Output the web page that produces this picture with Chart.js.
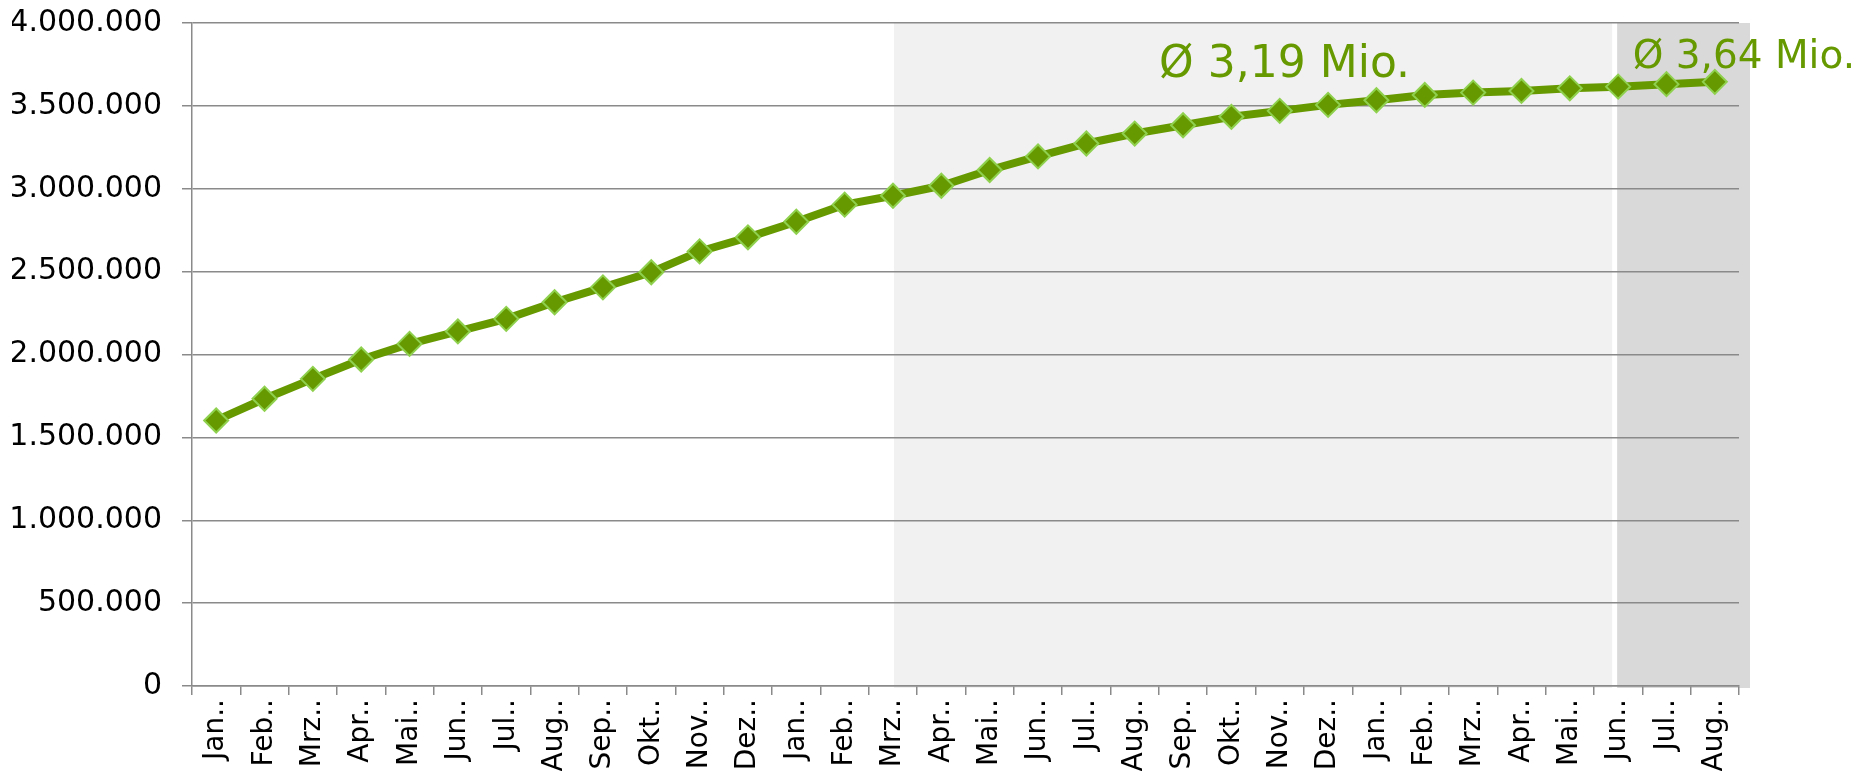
<!DOCTYPE html>
<html>
<head>
<meta charset="utf-8">
<script src="https://cdn.jsdelivr.net/npm/chart.js@4/dist/chart.umd.min.js"></script>
<style>
  body { margin: 0; background: #fff; }
</style>
</head>
<body>
<canvas id="chart" width="1875" height="771"></canvas>
<script>
const months = ['Jan..', 'Feb..', 'Mrz..', 'Apr..', 'Mai..', 'Jun..', 'Jul..', 'Aug..', 'Sep..', 'Okt..', 'Nov..', 'Dez..',
                'Jan..', 'Feb..', 'Mrz..', 'Apr..', 'Mai..', 'Jun..', 'Jul..', 'Aug..', 'Sep..', 'Okt..', 'Nov..', 'Dez..',
                'Jan..', 'Feb..', 'Mrz..', 'Apr..', 'Mai..', 'Jun..', 'Jul..', 'Aug..']
const users = [1602000, 1733000, 1853000, 1970000, 2064000, 2139000, 2215000, 2315000, 2405000, 2496000, 2622000, 2707000,
               2801000, 2904000, 2958000, 3018000, 3113000, 3195000, 3273000, 3333000, 3383000, 3434000, 3470000, 3506000,
               3534000, 3566000, 3580000, 3590000, 3606000, 3616000, 3631000, 3645000]
// shaded periods (category index where each starts / ends)
const lightBand = [14, 29]
const darkBand = [29, 31]
// average labels: text, category position, value position
const avgTexts = ['Ø 3,19 Mio.', 'Ø 3,64 Mio.']
const avgPos = [22.1, 31.6]
const avgVal = [3675000, 3730000]
const avgSize = [44, 39]

const green = '#669900'

function fmt(v) {
    return String(v).replace(/\B(?=(\d{3})+(?!\d))/g, '.')
}

function area_x(scale, pos) {
    const i = Math.floor(pos)
    const a = scale.getPixelForValue(i)
    const b = scale.getPixelForValue(i + 1)
    return a + (b - a) * (pos - i)
}

const bands = {
    id: 'bands',
    beforeDraw(chart) {
        const ctx = chart.ctx
        const x = chart.scales.x
        const area = chart.chartArea
        ctx.save()
        ctx.fillStyle = '#f1f1f1'
        const l0 = x.getPixelForValue(lightBand[0]) + 1
        const l1 = x.getPixelForValue(lightBand[1]) - 6
        ctx.fillRect(l0, area.top, l1 - l0, area.bottom - area.top + 2)
        ctx.fillStyle = '#d9d9d9'
        const d0 = x.getPixelForValue(darkBand[0]) - 1
        const d1 = area.right + 11
        ctx.fillRect(d0, area.top, d1 - d0, area.bottom - area.top + 2)
        ctx.restore()
    },
    afterDatasetsDraw(chart) {
        const ctx = chart.ctx
        const x = chart.scales.x
        const y = chart.scales.y
        ctx.save()
        ctx.fillStyle = green
        ctx.textAlign = 'center'
        ctx.textBaseline = 'alphabetic'
        for (let i = 0; i < avgTexts.length; i++) {
            ctx.font = avgSize[i] + 'px "DejaVu Sans"'
            ctx.fillText(avgTexts[i], area_x(x, avgPos[i]), y.getPixelForValue(avgVal[i]))
        }
        ctx.restore()
    }
}

const data = {
    labels: months,
    datasets: [{
        data: users,
        borderColor: green,
        borderWidth: 8,
        tension: 0,
        pointStyle: 'rectRot',
        pointRadius: 12,
        pointBackgroundColor: green,
        pointBorderColor: '#8fd14f',
        pointBorderWidth: 2
    }]
}

const config = {
    type: 'line',
    data: data,
    plugins: [bands],
    options: {
        responsive: false,
        animation: false,
        layout: { padding: { left: 12, right: 136, top: 23, bottom: 0 } },
        plugins: {
            legend: { display: false },
            tooltip: { enabled: false }
        },
        scales: {
            x: {
                offset: true,
                grid: {
                    offset: true,
                    drawOnChartArea: false,
                    color: '#8a8a8a',
                    lineWidth: 1.5,
                    tickLength: 9
                },
                border: { color: '#8a8a8a', width: 1.5 },
                ticks: {
                    autoSkip: false,
                    minRotation: 90,
                    maxRotation: 90,
                    padding: 4,
                    color: '#000',
                    font: { family: 'DejaVu Sans', size: 28 }
                },
                afterFit(scale) { scale.height = 85 }
            },
            y: {
                min: 0,
                max: 4000000,
                grid: {
                    color: '#8a8a8a',
                    lineWidth: 1.5,
                    tickLength: 10
                },
                border: { color: '#8a8a8a', width: 1.5 },
                ticks: {
                    stepSize: 500000,
                    padding: 20,
                    color: '#000',
                    // small lineHeight keeps the top label from pushing the plot down
                    font: { family: 'DejaVu Sans', size: 30, lineHeight: 0.1 },
                    callback: (v) => fmt(v)
                },
                afterFit(scale) { scale.width = 180 }
            }
        }
    }
}

new Chart(document.getElementById('chart'), config)
</script>
</body>
</html>
